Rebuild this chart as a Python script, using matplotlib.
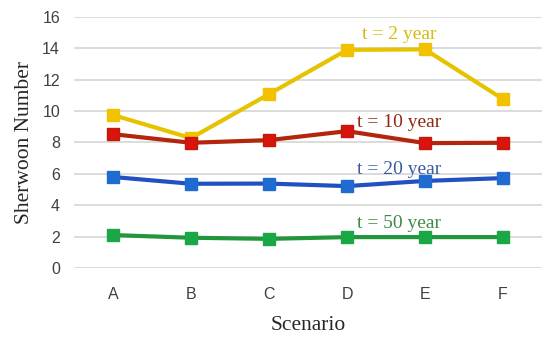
import matplotlib
matplotlib.use('Agg')
import matplotlib.pyplot as plt

# scenarios on the x-axis
scenarios = ['A', 'B', 'C', 'D', 'E', 'F']
# Sherwood number for each time
sh_2 = [9.75, 8.28, 11.08, 13.9, 13.93, 10.76]
sh_10 = [8.53, 7.98, 8.15, 8.72, 7.96, 7.98]
sh_20 = [5.8, 5.37, 5.38, 5.22, 5.55, 5.73]
sh_50 = [2.1, 1.93, 1.86, 1.97, 1.97, 1.97]

fig = plt.figure(figsize=(5.5, 3.38), dpi=100)
ax = fig.add_axes([0.1345, 0.207, 0.851, 0.743])

x = range(len(scenarios))
ax.plot(x, sh_2, color='#E6C300', lw=3, marker='s', ms=8.5, mfc='#F2C100', mec='#F2C100', zorder=3)
ax.plot(x, sh_10, color='#B3260C', lw=3, marker='s', ms=8.5, mfc='#D8140C', mec='#C01A0C', zorder=3)
ax.plot(x, sh_20, color='#2150C0', lw=3, marker='s', ms=8.5, mfc='#1F6BD0', mec='#1F6BD0', zorder=3)
ax.plot(x, sh_50, color='#21963B', lw=3, marker='s', ms=8.5, mfc='#1AA847', mec='#1AA847', zorder=3)

# curve labels
serif = 'Liberation Serif'
ax.text(3.67, 14.85, 't = 2 year', color='#D4BC10', fontsize=14, family=serif, ha='center', va='center')
ax.text(3.67, 9.25, 't = 10 year', color='#8E2A10', fontsize=14, family=serif, ha='center', va='center')
ax.text(3.67, 6.3, 't = 20 year', color='#3A5AA8', fontsize=14, family=serif, ha='center', va='center')
ax.text(3.67, 2.85, 't = 50 year', color='#3F8A45', fontsize=14, family=serif, ha='center', va='center')

ax.set_xlim(-0.5, 5.5)
ax.set_ylim(0, 16)
ax.set_yticks(range(0, 17, 2))
ax.set_xticks(list(x))
ax.set_xticklabels(scenarios)
ax.grid(axis='y', color='#D9D9D9', lw=1.3)
ax.set_axisbelow(True)
for s in ax.spines.values():
    s.set_visible(False)
ax.tick_params(axis='x', length=0, labelsize=11.5, labelcolor='#404040', pad=14)
ax.tick_params(axis='y', length=0, labelsize=11.5, labelcolor='#404040', pad=10)
for lab in ax.get_xticklabels() + ax.get_yticklabels():
    lab.set_family('Liberation Sans')

ax.set_xlabel('Scenario', family=serif, fontsize=15.5, color='#262626', labelpad=10)
ax.set_ylabel('Sherwoon Number', family=serif, fontsize=15.5, color='#262626', labelpad=6)

fig.savefig('out.png', dpi=100)
